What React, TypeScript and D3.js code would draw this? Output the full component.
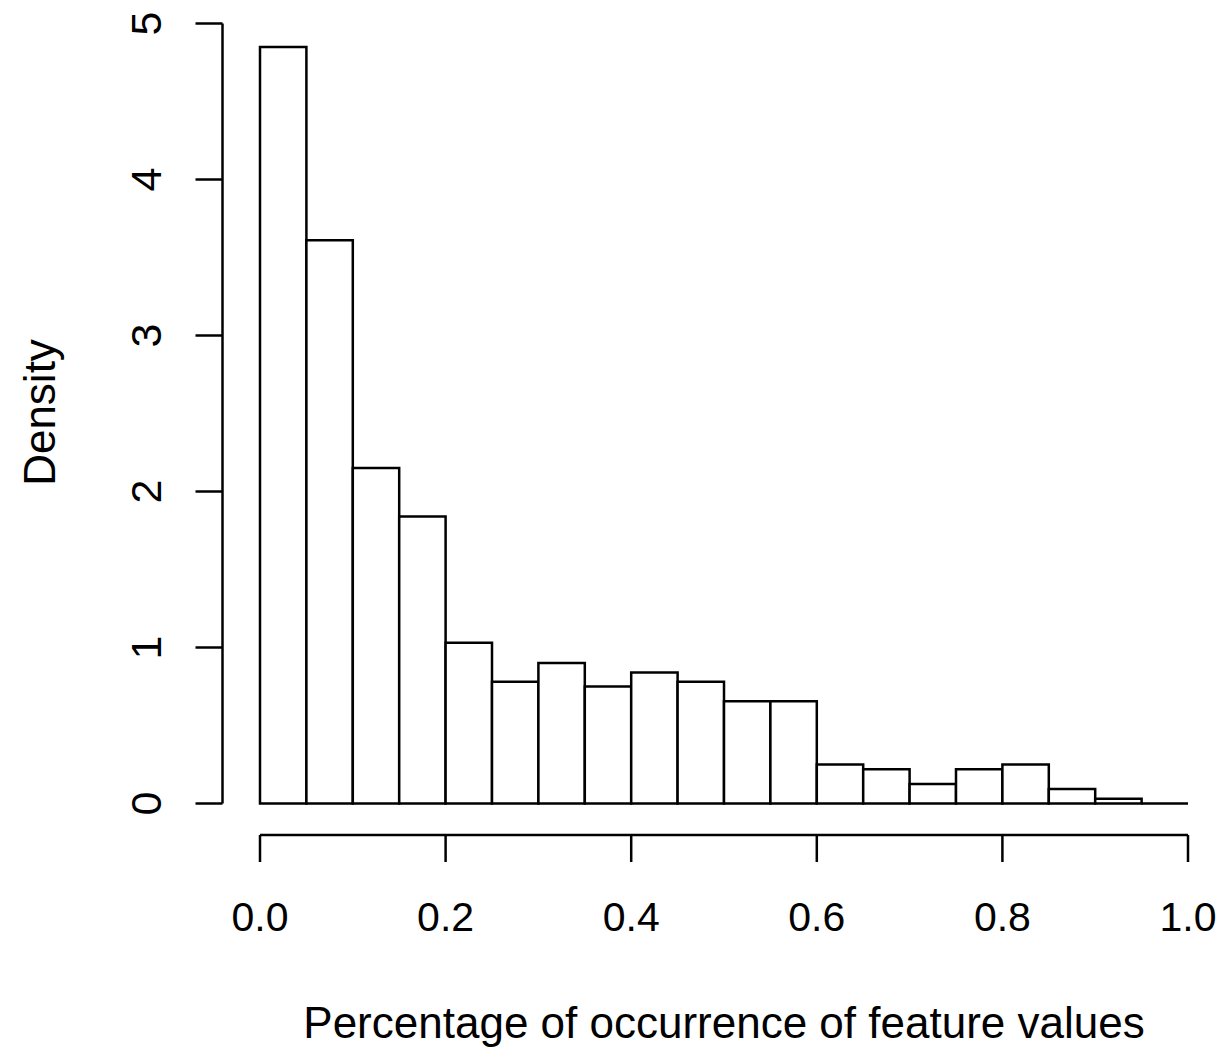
import React, { useEffect, useRef } from 'react';
import * as d3 from 'd3';

// bin edges (lower bound of each bin), width 0.05
const binStarts = [0, 0.05, 0.1, 0.15, 0.2, 0.25, 0.3, 0.35, 0.4, 0.45,
  0.5, 0.55, 0.6, 0.65, 0.7, 0.75, 0.8, 0.85, 0.9, 0.95];
const binWidth = 0.05;
// density
const density = [4.85, 3.61, 2.15, 1.84, 1.03, 0.78, 0.9, 0.75, 0.84, 0.78,
  0.655, 0.655, 0.25, 0.22, 0.125, 0.22, 0.25, 0.093, 0.031, 0];

const xTicks = [0, 0.2, 0.4, 0.6, 0.8, 1.0];
const yTicks = [0, 1, 2, 3, 4, 5];

const xLabel = 'Percentage of occurrence of feature values';
const yLabel = 'Density';

const W = 1225;
const H = 1049;

export default function App() {
  const ref = useRef<SVGSVGElement>(null);

  useEffect(() => {
    const svg = d3.select(ref.current);
    svg.selectAll('*').remove();

    const x = d3.scaleLinear().domain([0, 1]).range([260, 1188]);
    const y = d3.scaleLinear().domain([0, 5]).range([803.5, 23.5]);
    const font = '"Liberation Sans", Arial, Helvetica, sans-serif';
    const lw = 2.5;

    const data = binStarts.map((b, i) => ({ x0: b, x1: b + binWidth, d: density[i] }));

    // bars as closed paths so that empty bins still show their bottom edge
    svg.append('g')
      .selectAll('path')
      .data(data)
      .enter()
      .append('path')
      .attr('d', d => {
        const p = d3.path();
        p.moveTo(x(d.x0), y(0));
        p.lineTo(x(d.x0), y(d.d));
        p.lineTo(x(d.x1), y(d.d));
        p.lineTo(x(d.x1), y(0));
        p.closePath();
        return p.toString();
      })
      .attr('fill', 'white')
      .attr('stroke', 'black')
      .attr('stroke-width', lw)
      .attr('stroke-linejoin', 'miter');

    // x axis (offset below the plot, like R)
    const xAxisY = 835;
    const gx = svg.append('g').attr('transform', `translate(0,${xAxisY})`);
    gx.append('line')
      .attr('x1', x(0)).attr('x2', x(1))
      .attr('stroke', 'black').attr('stroke-width', lw);
    gx.selectAll('line.tick')
      .data(xTicks)
      .enter()
      .append('line')
      .attr('class', 'tick')
      .attr('x1', d => x(d)).attr('x2', d => x(d))
      .attr('y1', 0).attr('y2', 27)
      .attr('stroke', 'black').attr('stroke-width', lw);
    gx.selectAll('text')
      .data(xTicks)
      .enter()
      .append('text')
      .attr('x', d => x(d))
      .attr('y', 96)
      .attr('text-anchor', 'middle')
      .attr('font-family', font)
      .attr('font-size', 41)
      .text(d => d3.format('.1f')(d));

    // y axis
    const yAxisX = 222.5;
    const gy = svg.append('g').attr('transform', `translate(${yAxisX},0)`);
    gy.append('line')
      .attr('y1', y(0)).attr('y2', y(5))
      .attr('stroke', 'black').attr('stroke-width', lw);
    gy.selectAll('line.tick')
      .data(yTicks)
      .enter()
      .append('line')
      .attr('class', 'tick')
      .attr('y1', d => y(d)).attr('y2', d => y(d))
      .attr('x1', 0).attr('x2', -27)
      .attr('stroke', 'black').attr('stroke-width', lw);
    gy.selectAll('text')
      .data(yTicks)
      .enter()
      .append('text')
      .attr('transform', d => `translate(-62,${y(d)}) rotate(-90)`)
      .attr('text-anchor', 'middle')
      .attr('font-family', font)
      .attr('font-size', 43)
      .text(d => d);

    // axis titles
    svg.append('text')
      .attr('x', (x(0) + x(1)) / 2)
      .attr('y', 1037.5)
      .attr('text-anchor', 'middle')
      .attr('font-family', font)
      .attr('font-size', 44)
      .text(xLabel);

    svg.append('text')
      .attr('transform', `translate(55,${(y(0) + y(5)) / 2 - 1}) rotate(-90)`)
      .attr('text-anchor', 'middle')
      .attr('font-family', font)
      .attr('font-size', 44)
      .text(yLabel);
  }, []);

  return (
    <svg ref={ref} width={W} height={H}
      style={{ position: 'absolute', left: 0, top: 0, background: 'white' }} />
  );
}
